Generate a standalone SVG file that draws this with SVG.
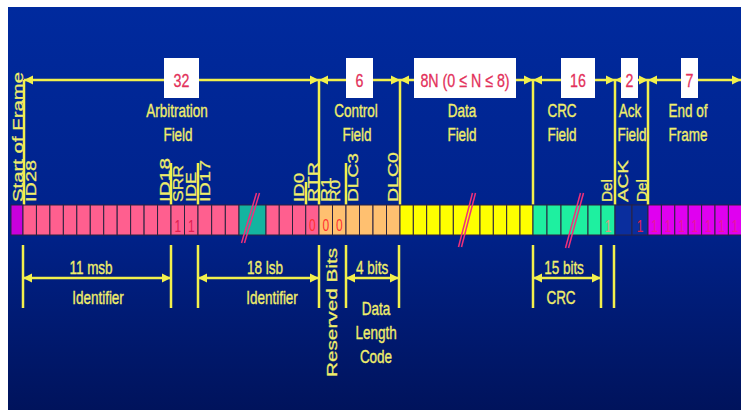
<svg xmlns="http://www.w3.org/2000/svg" width="741" height="412" viewBox="0 0 741 412">
<defs>
<linearGradient id="bg" x1="0" y1="0" x2="0" y2="1">
<stop offset="0" stop-color="#002a9e"/>
<stop offset="0.55" stop-color="#00228a"/>
<stop offset="1" stop-color="#00135c"/>
</linearGradient>
<marker id="ah" viewBox="0 0 10 10" refX="10" refY="5" markerUnits="userSpaceOnUse" markerWidth="9" markerHeight="11" orient="auto-start-reverse"><path d="M0,0L10,5L0,10z" fill="#f2f04c"/></marker>
</defs>
<style>
.ln{stroke:#f2f04c;stroke-width:2.5;fill:none}
.lb{font-family:"Liberation Sans",Arial,sans-serif;font-size:18px;fill:#f0ee6a;stroke:#f0ee6a;stroke-width:0.35;text-anchor:middle}
.vl{font-family:"Liberation Sans",Arial,sans-serif;font-size:20px;fill:#f0ee6a;stroke:#f0ee6a;stroke-width:0.35}
.box{fill:#ffffff}
.num{font-family:"Liberation Sans",Arial,sans-serif;font-size:19px;fill:#e3305a;stroke:#e3305a;stroke-width:0.3;text-anchor:middle}
.c rect{stroke:#2b2340;stroke-width:1}
.sof{fill:#c800dc}.pk{fill:#ff5f8f}.tl{fill:#14b4a0}.or{fill:#ffc070}.ye{fill:#ffff00}.gr{fill:#1ef0a0}.dk{fill:#0a2e9e}.mg{fill:#e000f0}
.bit{font-family:"Liberation Sans",Arial,sans-serif;font-size:16px;text-anchor:middle;fill:#e02050}
.sl{stroke:#f0307a;stroke-width:1.5}
</style>
<rect x="0" y="0" width="741" height="412" fill="#ffffff"/>
<rect x="8" y="7" width="733" height="403" fill="url(#bg)"/>

<g id="connectors">
<line class="ln" x1="24" y1="80" x2="319" y2="80" marker-start="url(#ah)" marker-end="url(#ah)"/>
<line class="ln" x1="319" y1="80" x2="400" y2="80" marker-start="url(#ah)" marker-end="url(#ah)"/>
<line class="ln" x1="400" y1="80" x2="533" y2="80" marker-start="url(#ah)" marker-end="url(#ah)"/>
<line class="ln" x1="533" y1="80" x2="615" y2="80" marker-start="url(#ah)" marker-end="url(#ah)"/>
<line class="ln" x1="615" y1="80" x2="648" y2="80" marker-start="url(#ah)" marker-end="url(#ah)"/>
<line class="ln" x1="648" y1="80" x2="741" y2="80" marker-start="url(#ah)" marker-end="url(#ah)"/>
<path class="ln" d="M24,80V205M319,80V205M400,80V205M533,80V205M615,80V205M648,80V205"/>
<path class="ln" d="M171,163V205M198,163V205M306,182V205M346,163V205"/>
<path class="ln" d="M23,245V308M171,245V308M198,245V308M319,245V308M346,245V308M399,245V308M533,245V308M601,245V308M614,245V308"/>
<line class="ln" x1="23" y1="278" x2="171" y2="278" marker-start="url(#ah)" marker-end="url(#ah)"/>
<line class="ln" x1="198" y1="278" x2="319" y2="278" marker-start="url(#ah)" marker-end="url(#ah)"/>
<line class="ln" x1="346" y1="278" x2="399" y2="278" marker-start="url(#ah)" marker-end="url(#ah)"/>
<line class="ln" x1="533" y1="278" x2="601" y2="278" marker-start="url(#ah)" marker-end="url(#ah)"/>
</g>

<g id="field-boxes">
<rect class="box" x="164" y="58" width="35" height="40"/>
<rect class="box" x="346" y="58" width="27" height="40"/>
<rect class="box" x="414" y="58" width="102" height="40"/>
<rect class="box" x="561" y="58" width="34" height="40"/>
<rect class="box" x="621" y="58" width="17" height="40"/>
<rect class="box" x="681" y="58" width="17" height="40"/>
<text class="num" transform="translate(181.5,87) scale(0.75,1)">32</text>
<text class="num" transform="translate(359.5,87) scale(0.75,1)">6</text>
<text class="num" transform="translate(465,87) scale(0.75,1)">8N (0 ≤ N ≤ 8)</text>
<text class="num" transform="translate(578,87) scale(0.75,1)">16</text>
<text class="num" transform="translate(629.5,87) scale(0.75,1)">2</text>
<text class="num" transform="translate(689.5,87) scale(0.75,1)">7</text>
</g>

<g id="field-labels">
<text class="lb" transform="translate(177,117) scale(0.75,1)">Arbitration</text>
<text class="lb" transform="translate(178,141) scale(0.75,1)">Field</text>
<text class="lb" transform="translate(356,117) scale(0.75,1)">Control</text>
<text class="lb" transform="translate(357,141) scale(0.75,1)">Field</text>
<text class="lb" transform="translate(462,117) scale(0.75,1)">Data</text>
<text class="lb" transform="translate(462,141) scale(0.75,1)">Field</text>
<text class="lb" transform="translate(562,117) scale(0.75,1)">CRC</text>
<text class="lb" transform="translate(562,141) scale(0.75,1)">Field</text>
<text class="lb" transform="translate(630,117) scale(0.75,1)">Ack</text>
<text class="lb" transform="translate(632,141) scale(0.75,1)">Field</text>
<text class="lb" transform="translate(688,117) scale(0.75,1)">End of</text>
<text class="lb" transform="translate(688,141) scale(0.75,1)">Frame</text>
</g>

<g id="bit-labels">
<text class="vl" transform="translate(23,202) rotate(-90) scale(1,0.75)" textLength="130" lengthAdjust="spacingAndGlyphs">Start of Frame</text>
<text class="vl" transform="translate(36,202) rotate(-90) scale(1,0.75)" textLength="42" lengthAdjust="spacingAndGlyphs">ID28</text>
<text class="vl" transform="translate(170,202) rotate(-90) scale(1,0.75)" textLength="44" lengthAdjust="spacingAndGlyphs">ID18</text>
<text class="vl" transform="translate(183,202) rotate(-90) scale(1,0.75)" textLength="37" lengthAdjust="spacingAndGlyphs">SRR</text>
<text class="vl" transform="translate(196,202) rotate(-90) scale(1,0.75)" textLength="30" lengthAdjust="spacingAndGlyphs">IDE</text>
<text class="vl" transform="translate(210,202) rotate(-90) scale(1,0.75)" textLength="42" lengthAdjust="spacingAndGlyphs">ID17</text>
<text class="vl" transform="translate(304,202) rotate(-90) scale(1,0.75)" textLength="29" lengthAdjust="spacingAndGlyphs">ID0</text>
<text class="vl" transform="translate(318,202) rotate(-90) scale(1,0.75)" textLength="40" lengthAdjust="spacingAndGlyphs">RTR</text>
<text class="vl" transform="translate(331,202) rotate(-90) scale(1,0.75)" textLength="25" lengthAdjust="spacingAndGlyphs">R1</text>
<text class="vl" transform="translate(340,202) rotate(-90) scale(1,0.75)" textLength="22" lengthAdjust="spacingAndGlyphs">R0</text>
<text class="vl" transform="translate(358,202) rotate(-90) scale(1,0.75)" textLength="49" lengthAdjust="spacingAndGlyphs">DLC3</text>
<text class="vl" transform="translate(398,202) rotate(-90) scale(1,0.75)" textLength="50" lengthAdjust="spacingAndGlyphs">DLC0</text>
<text class="vl" transform="translate(612,202) rotate(-90) scale(1,0.75)" textLength="23" lengthAdjust="spacingAndGlyphs">Del</text>
<text class="vl" transform="translate(628,202) rotate(-90) scale(1,0.75)" textLength="42" lengthAdjust="spacingAndGlyphs">ACK</text>
<text class="vl" transform="translate(647,202) rotate(-90) scale(1,0.75)" textLength="23" lengthAdjust="spacingAndGlyphs">Del</text>
</g>

<g id="bit-row" class="c">
<rect class="sof" x="11" y="205" width="12" height="30"/>
<rect class="pk" x="23" y="205" width="13.45" height="30"/>
<rect class="pk" x="36.45" y="205" width="13.45" height="30"/>
<rect class="pk" x="49.91" y="205" width="13.45" height="30"/>
<rect class="pk" x="63.36" y="205" width="13.45" height="30"/>
<rect class="pk" x="76.82" y="205" width="13.45" height="30"/>
<rect class="pk" x="90.27" y="205" width="13.45" height="30"/>
<rect class="pk" x="103.73" y="205" width="13.45" height="30"/>
<rect class="pk" x="117.18" y="205" width="13.45" height="30"/>
<rect class="pk" x="130.64" y="205" width="13.45" height="30"/>
<rect class="pk" x="144.09" y="205" width="13.45" height="30"/>
<rect class="pk" x="157.55" y="205" width="13.45" height="30"/>
<rect class="pk" x="171" y="205" width="13.5" height="30"/>
<rect class="pk" x="184.5" y="205" width="13.5" height="30"/>
<rect class="pk" x="198" y="205" width="13.67" height="30"/>
<rect class="pk" x="211.67" y="205" width="13.67" height="30"/>
<rect class="pk" x="225.33" y="205" width="13.67" height="30"/>
<rect class="tl" x="239" y="205" width="27" height="30"/>
<rect class="pk" x="266" y="205" width="13.25" height="30"/>
<rect class="pk" x="279.25" y="205" width="13.25" height="30"/>
<rect class="pk" x="292.5" y="205" width="13.25" height="30"/>
<rect class="pk" x="305.75" y="205" width="13.25" height="30"/>
<rect class="or" x="319" y="205" width="13.5" height="30"/>
<rect class="or" x="332.5" y="205" width="13.5" height="30"/>
<rect class="or" x="346" y="205" width="13.5" height="30"/>
<rect class="or" x="359.5" y="205" width="13.5" height="30"/>
<rect class="or" x="373" y="205" width="13.5" height="30"/>
<rect class="or" x="386.5" y="205" width="13.5" height="30"/>
<rect class="ye" x="400" y="205" width="13.33" height="30"/>
<rect class="ye" x="413.33" y="205" width="13.33" height="30"/>
<rect class="ye" x="426.67" y="205" width="13.33" height="30"/>
<rect class="ye" x="440" y="205" width="13.33" height="30"/>
<rect class="ye" x="453.33" y="205" width="26.67" height="30"/>
<rect class="ye" x="480" y="205" width="13.33" height="30"/>
<rect class="ye" x="493.33" y="205" width="13.33" height="30"/>
<rect class="ye" x="506.67" y="205" width="13.33" height="30"/>
<rect class="ye" x="520" y="205" width="13" height="30"/>
<rect class="gr" x="533" y="205" width="14" height="30"/>
<rect class="gr" x="547" y="205" width="14" height="30"/>
<rect class="gr" x="561" y="205" width="27" height="30"/>
<rect class="gr" x="588" y="205" width="13" height="30"/>
<rect class="gr" x="601" y="205" width="14" height="30"/>
<rect class="dk" x="615" y="205" width="17" height="30"/>
<rect class="dk" x="632" y="205" width="16" height="30"/>
<rect class="mg" x="648" y="205" width="13.4" height="30"/>
<rect class="mg" x="661.4" y="205" width="13.4" height="30"/>
<rect class="mg" x="674.8" y="205" width="13.4" height="30"/>
<rect class="mg" x="688.2" y="205" width="13.4" height="30"/>
<rect class="mg" x="701.6" y="205" width="13.4" height="30"/>
<rect class="mg" x="715" y="205" width="13.4" height="30"/>
<rect class="mg" x="728.4" y="205" width="13.4" height="30"/>
</g>

<g id="bit-values">
<text class="bit" transform="translate(177.75,232) scale(0.75,1)">1</text>
<text class="bit" transform="translate(191.25,232) scale(0.75,1)">1</text>
<text class="bit" style="fill:#ff3030" transform="translate(312.4,231) scale(0.75,1)">0</text>
<text class="bit" style="fill:#ff3030" transform="translate(325.75,231) scale(0.75,1)">0</text>
<text class="bit" style="fill:#ff3030" transform="translate(339.25,231) scale(0.75,1)">0</text>
<text class="bit" style="fill:#d89a80" transform="translate(608,232) scale(0.75,1)">1</text>
<text class="bit" transform="translate(640,232) scale(0.75,1)">1</text>
<text class="bit" style="fill:#e8189c" transform="translate(654.7,232) scale(0.75,1)">1</text>
<text class="bit" style="fill:#e8189c" transform="translate(668.1,232) scale(0.75,1)">1</text>
<text class="bit" style="fill:#e8189c" transform="translate(681.5,232) scale(0.75,1)">1</text>
<text class="bit" style="fill:#e8189c" transform="translate(694.9,232) scale(0.75,1)">1</text>
<text class="bit" style="fill:#e8189c" transform="translate(708.3,232) scale(0.75,1)">1</text>
<text class="bit" style="fill:#e8189c" transform="translate(721.7,232) scale(0.75,1)">1</text>
<text class="bit" style="fill:#e8189c" transform="translate(735.1,232) scale(0.75,1)">1</text>
</g>

<g id="breaks">
<line class="sl" x1="241.5" y1="243" x2="256.5" y2="193"/>
<line class="sl" x1="244.5" y1="243" x2="259.5" y2="193"/>
<line class="sl" x1="458.5" y1="247" x2="472.5" y2="193"/>
<line class="sl" x1="461.5" y1="247" x2="475.5" y2="193"/>
<line class="sl" x1="565.5" y1="248" x2="580.5" y2="193"/>
<line class="sl" x1="568.5" y1="248" x2="583.5" y2="193"/>
</g>

<g id="bottom-labels">
<text class="lb" transform="translate(91,274) scale(0.75,1)">11 msb</text>
<text class="lb" transform="translate(98,304) scale(0.75,1)">Identifier</text>
<text class="lb" transform="translate(265,274) scale(0.75,1)">18 lsb</text>
<text class="lb" transform="translate(272,304) scale(0.75,1)">Identifier</text>
<text class="vl" transform="translate(337,377) rotate(-90) scale(1,0.75)" textLength="129" lengthAdjust="spacingAndGlyphs">Reserved Bits</text>
<text class="lb" transform="translate(372,274) scale(0.75,1)">4 bits</text>
<text class="lb" transform="translate(376,315) scale(0.75,1)">Data</text>
<text class="lb" transform="translate(376,339) scale(0.75,1)">Length</text>
<text class="lb" transform="translate(376,363) scale(0.75,1)">Code</text>
<text class="lb" transform="translate(564,274) scale(0.75,1)">15 bits</text>
<text class="lb" transform="translate(561,304) scale(0.75,1)">CRC</text>
</g>
</svg>
